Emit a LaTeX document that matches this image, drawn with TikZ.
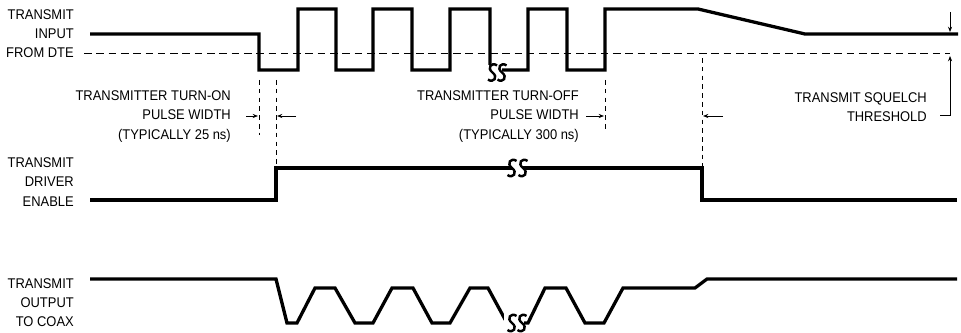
\documentclass[tikz,border=0pt]{standalone}
\usepackage{fontspec}
\setmainfont{Liberation Sans}[FakeStretch=0.92]
\usetikzlibrary{arrows.meta}

\begin{document}
\begin{tikzpicture}[scale=.3,
    wave/.style={line width=2.8pt, line join=miter},
    guide/.style={line width=.8pt, dash pattern=on 6.5pt off 4pt},
    vguide/.style={line width=.8pt, dash pattern=on 4pt off 3.5pt},
    sig/.style={font={\fontsize{12}{16.3}\selectfont}, align=right, anchor=east, inner sep=0pt},
    dimarrow/.style={line width=.8pt, -{Stealth[length=4.5pt,width=3.5pt]}},
    brk/.style={line width=2.1pt}]

\useasboundingbox (0,0) rectangle (96.1,-33.3);

% signal names
\node[sig] (lin) at (7.4,-3.4) {TRANSMIT\\INPUT\\FROM DTE};
\node[sig] (len) at (7.4,-18.2) {TRANSMIT\\DRIVER\\ENABLE};
\node[sig] (lout) at (7.4,-30.3) {TRANSMIT\\OUTPUT\\TO COAX};

% squelch threshold
\draw[guide] (8.4,-5.3) -- (95.0,-5.3);

% transmit input
\draw[wave] (9.0,-3.4) -- (25.9,-3.4) -- (25.9,-7.0) -- (29.8,-7.0) -- (29.8,-0.9) -- (33.6,-0.9) -- (33.6,-7.0) -- (37.3,-7.0) -- (37.3,-0.9) -- (41.2,-0.9) -- (41.2,-7.0) -- (45.0,-7.0) -- (45.0,-0.9) -- (49.0,-0.9) -- (49.0,-7.0) -- (52.8,-7.0) -- (52.8,-0.9) -- (56.7,-0.9) -- (56.7,-7.0) -- (60.5,-7.0) -- (60.5,-0.9) -- (69.8,-0.9) -- (80.5,-3.4) -- (95.8,-3.4);

% driver enable
\draw[wave] (9.0,-20.0) -- (27.6,-20.0) -- (27.6,-16.8) -- (70.2,-16.8) -- (70.2,-20.0) -- (95.7,-20.0);

% output to coax
\draw[wave] (9.0,-27.9) -- (27.6,-27.9) -- (28.7,-32.3) -- (29.7,-32.3) -- (31.5,-28.8) -- (33.5,-28.8) -- (35.5,-32.3) -- (37.3,-32.3) -- (39.2,-28.8) -- (41.3,-28.8) -- (43.2,-32.3) -- (45.0,-32.3) -- (47.0,-28.8) -- (48.8,-28.8) -- (50.7,-32.3) -- (52.8,-32.3) -- (54.5,-28.8) -- (56.6,-28.8) -- (58.5,-32.3) -- (60.4,-32.3) -- (62.3,-28.8) -- (69.5,-28.8) -- (70.7,-27.9) -- (95.7,-27.9);

% breaks
\fill[white] (48.6,-6.5) rectangle (50.2,-8.2);
\draw[brk,shift={(49.25,-7.25)}] (0.45,0.7) .. controls (-0.1,1.1) and (-0.6,0.45) .. (0,0) .. controls (0.6,-0.45) and (0.1,-1.1) .. (-0.45,-0.7);
\draw[brk,shift={(50.2,-7.25)}] (0.45,0.7) .. controls (-0.1,1.1) and (-0.6,0.45) .. (0,0) .. controls (0.6,-0.45) and (0.1,-1.1) .. (-0.45,-0.7);
\fill[white] (51.2,-16.0) rectangle (52.3,-17.6);
\draw[brk,shift={(51.2,-16.8)}] (0.45,0.7) .. controls (-0.1,1.1) and (-0.6,0.45) .. (0,0) .. controls (0.6,-0.45) and (0.1,-1.1) .. (-0.45,-0.7);
\draw[brk,shift={(52.3,-16.8)}] (0.45,0.7) .. controls (-0.1,1.1) and (-0.6,0.45) .. (0,0) .. controls (0.6,-0.45) and (0.1,-1.1) .. (-0.45,-0.7);
\fill[white] (50.4,-31.3) rectangle (52.4,-33.3);
\draw[brk,shift={(51.2,-32.3)}] (0.45,0.7) .. controls (-0.1,1.1) and (-0.6,0.45) .. (0,0) .. controls (0.6,-0.45) and (0.1,-1.1) .. (-0.45,-0.7);
\draw[brk,shift={(52.2,-32.3)}] (0.45,0.7) .. controls (-0.1,1.1) and (-0.6,0.45) .. (0,0) .. controls (0.6,-0.45) and (0.1,-1.1) .. (-0.45,-0.7);

% timing marks
\draw[vguide] (25.9,-8.0) -- (25.9,-13.5);
\draw[vguide] (27.6,-8.0) -- (27.6,-16.8);
\draw[vguide] (60.5,-8.0) -- (60.5,-13.0);
\draw[vguide] (70.2,-5.8) -- (70.2,-16.8);

\coordinate (on1) at (25.8,-11.6);
\coordinate (on2) at (27.7,-11.6);
\coordinate (off1) at (60.4,-11.6);
\coordinate (off2) at (70.3,-11.6);

\node[sig] (ton) at (23.1,-11.65) {TRANSMITTER TURN-ON\\PULSE WIDTH\\(TYPICALLY 25 ns)};
\node[sig] (toff) at (57.9,-11.65) {TRANSMITTER TURN-OFF\\PULSE WIDTH\\(TYPICALLY 300 ns)};

\draw[dimarrow] ([xshift=-1.2cm]on1) -- (on1);
\draw[dimarrow] ([xshift=1.9cm]on2) -- (on2);
\draw[dimarrow] ([xshift=-1.8cm]off1) -- (off1);
\draw[dimarrow] ([xshift=2.0cm]off2) -- (off2);

% squelch level
\node[sig] (sqt) at (92.7,-10.7) {TRANSMIT SQUELCH\\THRESHOLD};
\coordinate (sq1) at (95.0,-3.2);
\coordinate (sq2) at (95.0,-5.6);
\coordinate (sq3) at (94.0,-11.5);
\draw[dimarrow] ([yshift=2.0cm]sq1) -- (sq1);
\draw[dimarrow] (sq3) -| (sq2);

\end{tikzpicture}
\end{document}
